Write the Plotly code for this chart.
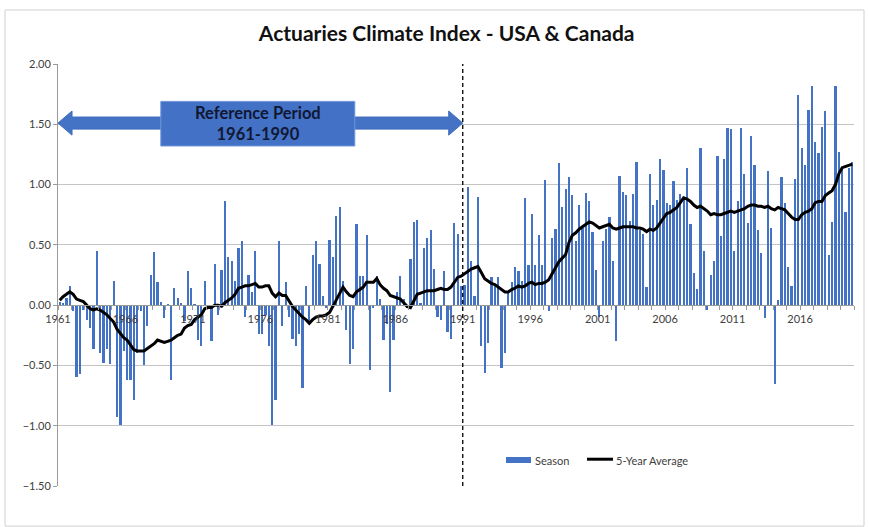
import plotly.graph_objects as go

# ---------------- data ----------------
start_year = 1961
season_values = [
    0.03, 0.02, 0.06, 0.16, -0.05, -0.6, -0.57, -0.04, -0.12, -0.19,
    -0.36, 0.45, -0.4, -0.48, -0.36, -0.49, 0.2, -0.93, -0.99, -0.38,
    -0.62, -0.62, -0.79, -0.4, -0.05, -0.5, -0.17, 0.25, 0.44, 0.19,
    0.03, -0.11, 0.01, -0.62, 0.14, 0.06, 0.02, -0.13, 0.28, 0.14,
    0.01, -0.29, -0.34, 0.2, -0.02, -0.3, 0.34, -0.08, 0.29, 0.86,
    0.4, 0.37, 0.2, 0.47, 0.53, -0.1, 0.25, 0.11, 0.45, -0.24,
    -0.24, -0.08, -0.34, -0.99, -0.79, 0.53, -0.17, 0.19, -0.1, -0.28,
    -0.34, -0.24, -0.69, 0.16, -0.13, 0.42, 0.53, 0.34, 0.08, -0.02,
    0.54, 0.4, 0.74, 0.81, 0.2, -0.21, -0.49, -0.36, 0.67, 0.24,
    0.24, 0.58, -0.54, -0.02, 0.24, 0.05, -0.29, -0.16, -0.72, -0.29,
    0.11, 0.24, 0.05, -0.02, 0.38, 0.69, 0.71, 0.02, 0.47, 0.56,
    0.62, 0.3, -0.1, -0.12, 0.28, -0.22, -0.28, 0.68, 0.59, 0.16,
    0.17, 0.98, 0.37, 0.08, 0.9, -0.34, -0.56, -0.31, 0.23, 0.16,
    0.23, -0.52, -0.4, 0.11, 0.19, 0.32, 0.28, 0.2, 0.89, 0.33,
    0.76, 0.33, 0.58, 0.33, 1.04, -0.05, 0.56, 0.63, 1.18, 0.81,
    0.96, 1.06, 0.91, 0.53, 0.83, 0.64, 0.93, 0.86, 0.61, 0.29,
    -0.1, 0.53, 0.63, 0.73, 0.37, -0.3, 1.07, 0.94, 0.91, 0.7,
    0.92, 1.19, 0.62, 0.59, 0.15, 1.09, 0.83, 0.87, 1.21, 1.12,
    0.85, 0.83, 1.03, 0.87, 0.92, 0.9, 1.14, 0.67, 0.27, 0.13,
    1.3, 0.45, -0.04, 0.25, 0.37, 1.24, 0.57, 1.21, 1.47, 1.46,
    0.45, 0.86, 1.47, 1.09, 0.68, 1.4, 1.16, 0.62, 0.43, -0.11,
    1.11, 0.64, -0.65, 0.04, 1.06, 0.85, 0.32, 0.16, 1.05, 1.74,
    1.3, 1.16, 1.62, 1.82, 1.35, 1.26, 1.48, 1.61, 0.42, 0.69,
    1.82, 1.27, 1.14, 0.77, 1.14, 1.19,
]
avg_values = [
    0.04, 0.07, 0.09, 0.11, 0.09, 0.05, 0.04, 0.03, 0.0, -0.03,
    -0.04, -0.03, -0.04, -0.06, -0.08, -0.11, -0.14, -0.2, -0.24, -0.27,
    -0.29, -0.33, -0.37, -0.38, -0.38, -0.38, -0.36, -0.34, -0.32, -0.29,
    -0.3, -0.31, -0.3, -0.29, -0.27, -0.25, -0.24, -0.19, -0.17, -0.16,
    -0.12, -0.1, -0.08, -0.03, -0.02, -0.02, 0.0, 0.0, -0.01, 0.02,
    0.04, 0.06, 0.09, 0.14, 0.15, 0.16, 0.16, 0.17, 0.18, 0.15,
    0.15, 0.16, 0.16, 0.1, 0.07, 0.1, 0.08, 0.08, 0.03, -0.01,
    -0.04, -0.07, -0.1, -0.12, -0.15, -0.12, -0.1, -0.09, -0.09, -0.08,
    -0.06, -0.01, 0.04, 0.09, 0.15, 0.11, 0.08, 0.07, 0.11, 0.13,
    0.15, 0.19, 0.19, 0.19, 0.22, 0.17, 0.14, 0.12, 0.08, 0.07,
    0.06, 0.05, 0.02, -0.01, -0.02, 0.04, 0.09, 0.1, 0.11, 0.12,
    0.12, 0.12, 0.13, 0.14, 0.13, 0.13, 0.15, 0.19, 0.23, 0.24,
    0.26, 0.28, 0.3, 0.31, 0.32, 0.27, 0.22, 0.2, 0.18, 0.17,
    0.15, 0.13, 0.11, 0.11, 0.13, 0.14, 0.16, 0.15, 0.16, 0.18,
    0.19, 0.17, 0.18, 0.18, 0.19, 0.21, 0.26, 0.32, 0.36, 0.39,
    0.42, 0.52, 0.58, 0.6, 0.63, 0.65, 0.67, 0.69, 0.68, 0.66,
    0.64, 0.65, 0.66, 0.67, 0.64, 0.63, 0.64, 0.65, 0.65, 0.65,
    0.65, 0.64, 0.64, 0.63, 0.61, 0.63, 0.62, 0.64, 0.68, 0.72,
    0.76, 0.77, 0.79, 0.81, 0.85, 0.89, 0.88, 0.86, 0.83, 0.81,
    0.82, 0.8, 0.78, 0.75, 0.76, 0.75, 0.75, 0.76, 0.77, 0.78,
    0.77, 0.78, 0.79, 0.8, 0.82, 0.83, 0.83, 0.82, 0.82, 0.81,
    0.82, 0.8, 0.79, 0.81, 0.8, 0.79, 0.76, 0.73, 0.71, 0.71,
    0.75, 0.77, 0.78, 0.8, 0.85, 0.86, 0.86, 0.91, 0.93, 0.95,
    1.0, 1.09, 1.14, 1.15, 1.16, 1.17,
]
label_years = [1961, 1966, 1971, 1976, 1981, 1986, 1991, 1996, 2001, 2006, 2011, 2016]
tick_labels = ["1961", "1966", "1971", "1976", "1981", "1986", "1991", "1996", "2001", "2006", "2011", "2016"]
y_ticks = [-1.5, -1.0, -0.5, 0.0, 0.5, 1.0, 1.5, 2.0]
ref_start, ref_end = 1961, 1991
ref_label = "Reference Period<br>1961-1990"
title_text = "Actuaries Climate Index - USA & Canada"
series_names = ["Season", "5-Year Average"]

# positions derived from the season index (quarter of a year each)
n = len(season_values)
x_pos = [start_year + (i + 0.5) / 4 for i in range(n)]
x_end = start_year + n / 4
y_min, y_max = y_ticks[0], y_ticks[-1]

FONT = "Lato, Carlito, Calibri, sans-serif"
BAR_COLOR = "#4472C4"

fig = go.Figure()
fig.add_trace(go.Bar(
    x=x_pos, y=season_values, name=series_names[0], showlegend=False,
    marker=dict(color=BAR_COLOR, line=dict(width=0)),
    width=0.165,
))
fig.add_trace(go.Scatter(
    x=x_pos, y=avg_values, name=series_names[1], mode="lines", showlegend=False,
    line=dict(color="black", width=3),
))

# reference-period double arrow (data coords)
hl = 1.04   # head length in years
hh = 0.10   # head half-height
sh = 0.05   # shaft half-height
yc = 1.51
path = (f"M {ref_start},{yc} L {ref_start+hl},{yc+hh} L {ref_start+hl},{yc+sh} "
        f"L {ref_end-hl},{yc+sh} L {ref_end-hl},{yc+hh} L {ref_end},{yc} "
        f"L {ref_end-hl},{yc-hh} L {ref_end-hl},{yc-sh} L {ref_start+hl},{yc-sh} "
        f"L {ref_start+hl},{yc-hh} Z")
shapes = [
    dict(type="path", path=path, xref="x", yref="y", fillcolor=BAR_COLOR,
         line=dict(color="#3f6cc0", width=1), layer="above"),
    dict(type="rect", xref="x", yref="y", x0=1968.62, x1=1983.0, y0=1.32, y1=1.69,
         fillcolor="#4371c6", line=dict(color="#6f96dc", width=1), layer="above"),
    dict(type="line", xref="x", yref="y", x0=ref_end, x1=ref_end, y0=y_min, y1=y_max,
         line=dict(color="black", width=1.3, dash="4px,3px"), layer="above"),
    # chart border
    dict(type="rect", xref="paper", yref="paper", x0=-0.0666, x1=1.0126, y0=-0.095, y1=1.128,
         line=dict(color="#d0d0d0", width=1), fillcolor="rgba(0,0,0,0)", layer="below"),
    # legend swatches (paper coords)
    dict(type="rect", xref="paper", yref="paper", x0=0.5628, x1=0.5942, y0=0.0545, y1=0.0687,
         fillcolor=BAR_COLOR, line=dict(width=0)),
    dict(type="line", xref="paper", yref="paper", x0=0.6646, x1=0.6972, y0=0.0635, y1=0.0635,
         line=dict(color="black", width=3)),
]

annotations = [
    dict(x=1975.8, y=1.505, xref="x", yref="y", text=f"<b>{ref_label}</b>",
         showarrow=False, font=dict(family=FONT, size=16.5, color="#111833"), align="center"),
    dict(x=0.5967, y=0.0616, xref="paper", yref="paper", xanchor="left", yanchor="middle",
         text=series_names[0], showarrow=False, font=dict(family=FONT, size=11, color="#404040")),
    dict(x=0.6985, y=0.0616, xref="paper", yref="paper", xanchor="left", yanchor="middle",
         text=series_names[1], showarrow=False, font=dict(family=FONT, size=11, color="#404040")),
]

fig.update_layout(
    width=869, height=527,
    margin=dict(l=58, r=15, t=64, b=41),
    paper_bgcolor="white", plot_bgcolor="white",
    font=dict(family=FONT, size=11, color="#404040"),
    title=dict(text=f"<b>{title_text}</b>", x=0.514, xref="container", xanchor="center",
               y=0.937, yref="container", yanchor="middle",
               font=dict(family=FONT, size=21, color="#111111")),
    barmode="overlay",
    bargap=0,
    xaxis=dict(range=[start_year, x_end], tickvals=label_years, ticktext=tick_labels,
               anchor="free", position=(0 - y_min) / (y_max - y_min),
               showline=True, linecolor="#9a9a9a", linewidth=1,
               ticks="outside", ticklen=4, tickcolor="#9a9a9a",
               minor=dict(dtick=1, tick0=start_year, ticks="outside", ticklen=4, tickcolor="#9a9a9a"),
               showgrid=False, zeroline=False,
               tickfont=dict(family=FONT, size=11, color="#404040")),
    yaxis=dict(range=[y_min, y_max], tickvals=y_ticks, tickformat=".2f",
               showgrid=True, gridcolor="#c4c4c4", gridwidth=1,
               showline=True, linecolor="#9a9a9a", linewidth=1,
               ticks="outside", ticklen=4, tickcolor="#9a9a9a",
               zeroline=False, domain=[0, 1],
               tickfont=dict(family=FONT, size=11, color="#404040")),
    shapes=shapes,
    annotations=annotations,
)

fig.write_html("out.html", config={"displayModeBar": False},
               post_script="document.body.style.margin='0px';")
